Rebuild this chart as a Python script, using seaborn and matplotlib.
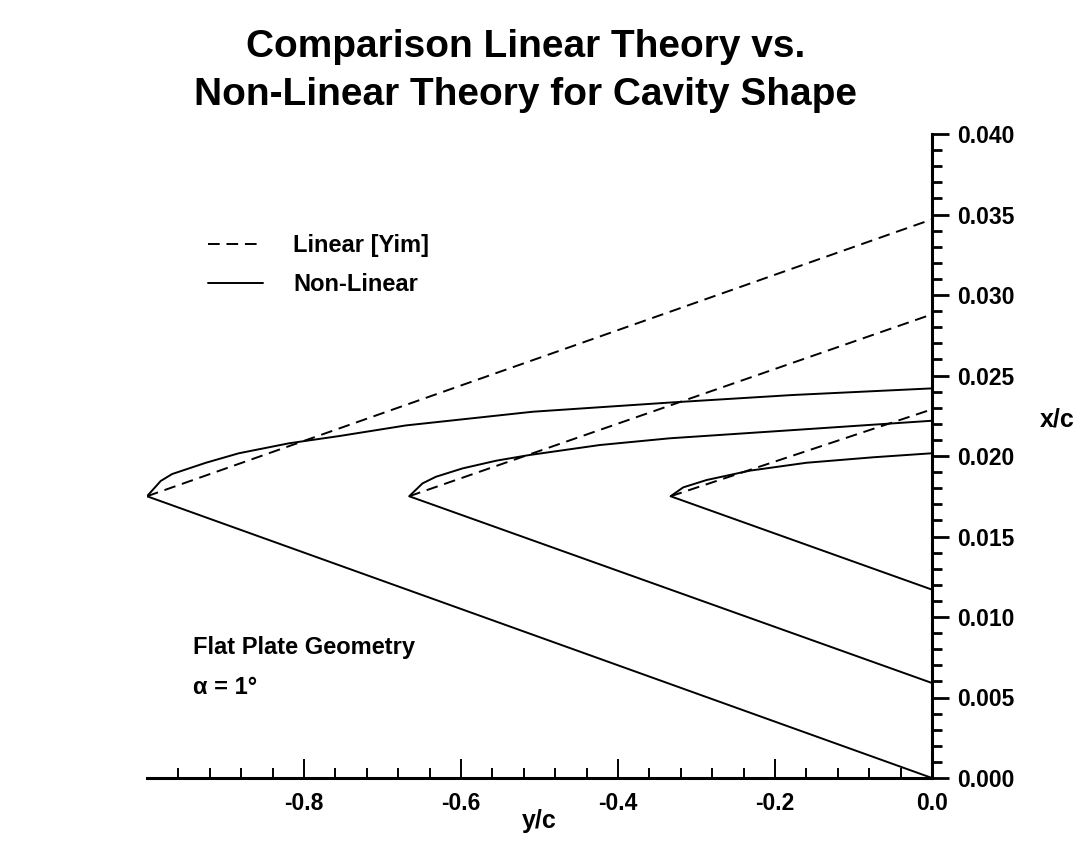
import numpy as np
import pandas as pd
import matplotlib
matplotlib.use("Agg")
import matplotlib.pyplot as plt
from matplotlib.ticker import FixedLocator, FormatStrFormatter
from matplotlib.lines import Line2D
import seaborn as sns

# ---------------- data ----------------
apex_x = 0.0175
# Non-linear theory, upper cavity surface (y/c, x/c), apex -> trailing end
nl1_y = [-1.0, -0.9825, -0.968, -0.925, -0.883, -0.819, -0.755, -0.670, -0.5085, -0.334, -0.177, 0.0]
nl1_x = [0.0175, 0.01845, 0.01888, 0.01958, 0.02017, 0.02079, 0.02124, 0.02190, 0.02275, 0.02332, 0.02379, 0.0242]
nl2_y = [-0.666, -0.649, -0.632, -0.598, -0.555, -0.513, -0.4235, -0.334, -0.177, 0.0]
nl2_x = [0.0175, 0.0183, 0.01871, 0.01923, 0.01971, 0.02006, 0.02068, 0.0211, 0.02161, 0.02219]
nl3_y = [-0.333, -0.317, -0.287, -0.232, -0.160, -0.075, 0.0]
nl3_x = [0.0175, 0.01805, 0.01851, 0.01909, 0.01958, 0.01992, 0.02017]
# lower (plate) surface end values at y/c = 0
lower_end = [0.0, 0.0059, 0.0117]
# Linear theory [Yim] upper surface end values at y/c = 0
linear_end = [0.0347, 0.0288, 0.0229]

nl_upper_y = [nl1_y, nl2_y, nl3_y]
nl_upper_x = [nl1_x, nl2_x, nl3_x]

xtick_vals = [-0.8, -0.6, -0.4, -0.2, 0.0]
xtick_labels = ["-0.8", "-0.6", "-0.4", "-0.2", "0.0"]
ytick_vals = [0.000, 0.005, 0.010, 0.015, 0.020, 0.025, 0.030, 0.035, 0.040]

# ---------------- build frames ----------------
rows = []
for i in range(3):
    # full non-linear polyline: lower end -> apex -> upper end
    ys = [0.0] + list(nl_upper_y[i])
    xs = [lower_end[i]] + list(nl_upper_x[i])
    for k, (a, b) in enumerate(zip(ys, xs)):
        rows.append(dict(theory="Non-Linear", cavity=i, order=k, y=a, x=b))
    # linear theory upper surface: apex -> end
    for k, (a, b) in enumerate(zip([nl_upper_y[i][0], 0.0], [apex_x, linear_end[i]])):
        rows.append(dict(theory="Linear [Yim]", cavity=i, order=k, y=a, x=b))
df = pd.DataFrame(rows)

# ---------------- plot ----------------
sns.set_theme(style="white")
plt.rcParams["font.family"] = ["Liberation Sans", "DejaVu Sans"]
plt.rcParams["font.weight"] = "bold"
plt.rcParams["text.color"] = "black"
plt.rcParams["axes.labelcolor"] = "black"
plt.rcParams["xtick.color"] = "black"
plt.rcParams["ytick.color"] = "black"

fig = plt.figure(figsize=(10.83, 8.48), dpi=100)
ax = fig.add_axes([147 / 1083, 1 - 778 / 848, 785 / 1083, 644 / 848])

lw = 1.4
for i in range(3):
    sub = df[(df.theory == "Non-Linear") & (df.cavity == i)]
    sns.lineplot(data=sub, x="y", y="x", sort=False, estimator=None,
                 color="black", lw=lw, ax=ax)
    sub = df[(df.theory == "Linear [Yim]") & (df.cavity == i)]
    sns.lineplot(data=sub, x="y", y="x", sort=False, estimator=None,
                 color="black", lw=lw, ax=ax, dashes=False)
    ax.lines[-1].set_dashes((6, 3.5))

ax.set_xlim(-1.0, 0.0)
ax.set_ylim(0.0, 0.040)

for s in ["top", "left"]:
    ax.spines[s].set_visible(False)
for s in ["bottom", "right"]:
    ax.spines[s].set_visible(True)
    ax.spines[s].set_color("black")
    ax.spines[s].set_linewidth(2.2)

ax.yaxis.tick_right()
ax.yaxis.set_major_locator(FixedLocator(ytick_vals))
ax.yaxis.set_minor_locator(FixedLocator([k / 1000 for k in range(41) if k % 5]))
ax.yaxis.set_major_formatter(FormatStrFormatter("%.3f"))
ax.xaxis.set_major_locator(FixedLocator(xtick_vals))
ax.set_xticklabels(xtick_labels)
ax.xaxis.set_minor_locator(FixedLocator([-0.96 + 0.04 * k for k in range(24) if k % 5 != 4]))

ax.tick_params(axis="y", which="major", direction="out", length=12, width=2,
               color="black", labelcolor="black", labelsize=16.5, pad=6,
               right=True, left=False)
ax.tick_params(axis="y", which="minor", direction="out", length=7, width=2,
               color="black", right=True, left=False)
ax.tick_params(axis="x", which="major", direction="in", length=14, width=1.4,
               color="black", labelcolor="black", labelsize=16.5, pad=10,
               bottom=True)
ax.tick_params(axis="x", which="minor", direction="in", length=7, width=1.4,
               color="black", bottom=True)
for t in ax.get_xticklabels() + ax.get_yticklabels():
    t.set_fontweight("bold")

ax.set_xlabel("y/c", fontsize=18, fontweight="bold", color="black")
ax.xaxis.set_label_coords(0.5, -0.066)
ax.xaxis.label.set_va("center")
ax.yaxis.set_label_position("right")
ax.set_ylabel("x/c", fontsize=18, fontweight="bold", rotation=0, color="black")
ax.yaxis.set_label_coords(1.159, 0.556)
ax.yaxis.label.set_va("center")
ax.yaxis.label.set_ha("center")

handles = [Line2D([], [], color="black", lw=lw, dashes=(6, 3.5)),
           Line2D([], [], color="black", lw=lw)]
leg = ax.legend(handles, ["Linear [Yim]", "Non-Linear"], loc="upper left",
                bbox_to_anchor=(0.078, 0.845), frameon=False, borderpad=0,
                borderaxespad=0, handlelength=2.3, handletextpad=1.3,
                labelspacing=0.68, prop=dict(size=17, weight="bold"))
for t in leg.get_texts():
    t.set_color("black")

ax.text(0.0586, 0.2034, "Flat Plate Geometry", transform=ax.transAxes,
        fontsize=17, fontweight="bold", va="center", ha="left", color="black")
ax.text(0.0586, 0.1398, "\u03b1 = 1\u00b0", transform=ax.transAxes,
        fontsize=17, fontweight="bold", va="center", ha="left", color="black")

fig.text(0.485, 1 - 71 / 848,
         "Comparison Linear Theory vs.\nNon-Linear Theory for Cavity Shape",
         ha="center", va="center", fontsize=28, fontweight="bold",
         linespacing=1.4, color="black")

fig.savefig("out.png", dpi=100, facecolor="white")
